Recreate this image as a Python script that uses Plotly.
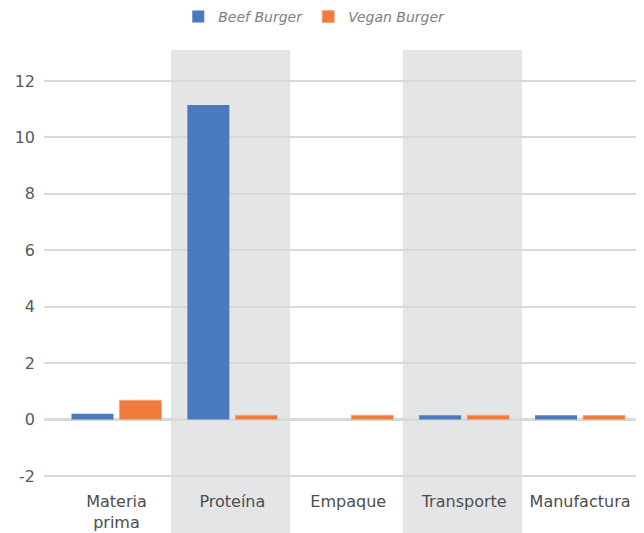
import plotly.graph_objects as go

categories = ["Materia<br>prima", "Proteína", "Empaque", "Transporte", "Manufactura"]
beef_values = [0.2, 11.15, 0.0, 0.15, 0.15]
vegan_values = [0.68, 0.15, 0.15, 0.15, 0.14]
y_ticks = [-2, 0, 2, 4, 6, 8, 10, 12]
y_tick_labels = ["-2", "0", "2", "4", "6", "8", "10", "12"]
shaded_categories = [1, 3]

BEEF = "#4a7abe"
VEGAN = "#ef7b3f"
GRID = "#d9d9d9"
FONT = "DejaVu Sans"

fig = go.Figure()
fig.add_trace(go.Bar(name="Beef Burger", x=categories, y=beef_values,
                     marker=dict(color=BEEF, line=dict(width=0))))
fig.add_trace(go.Bar(name="Vegan Burger", x=categories, y=vegan_values,
                     marker=dict(color=VEGAN, line=dict(color="#f6a77c", width=1))))

for i in shaded_categories:
    fig.add_shape(type="rect", xref="x", yref="paper",
                  x0=i - 0.53, x1=i + 0.5, y0=-0.2, y1=1,
                  fillcolor="#e4e5e7", line=dict(width=0), layer="below")

fig.update_layout(
    width=636, height=525,
    margin=dict(l=36, r=6, t=42, b=43, autoexpand=False),
    paper_bgcolor="white", plot_bgcolor="rgba(0,0,0,0)",
    barmode="group", bargap=0.172, bargroupgap=0.125,
    font=dict(family=FONT, size=16, color="#595959"),
    showlegend=True,
    legend=dict(orientation="h", x=0.455, xanchor="center", y=1.075, yanchor="middle",
                font=dict(size=14, color="#808080", style="italic"),
                itemwidth=30, tracegroupgap=0),
    xaxis=dict(range=[-0.625, 4.5], showgrid=False, zeroline=False, showline=False,
               automargin=False, tickfont=dict(size=16, color="#4d4d4d")),
    yaxis=dict(range=[-2.5, 13.1], tickvals=y_ticks, ticktext=y_tick_labels,
               showgrid=True, gridcolor=GRID,
               gridwidth=1.5, zeroline=True, zerolinecolor=GRID, zerolinewidth=3,
               showline=False, ticklabelstandoff=8, automargin=False,
               tickfont=dict(size=16, color="#595959")),
)

fig.write_html("out.html")
